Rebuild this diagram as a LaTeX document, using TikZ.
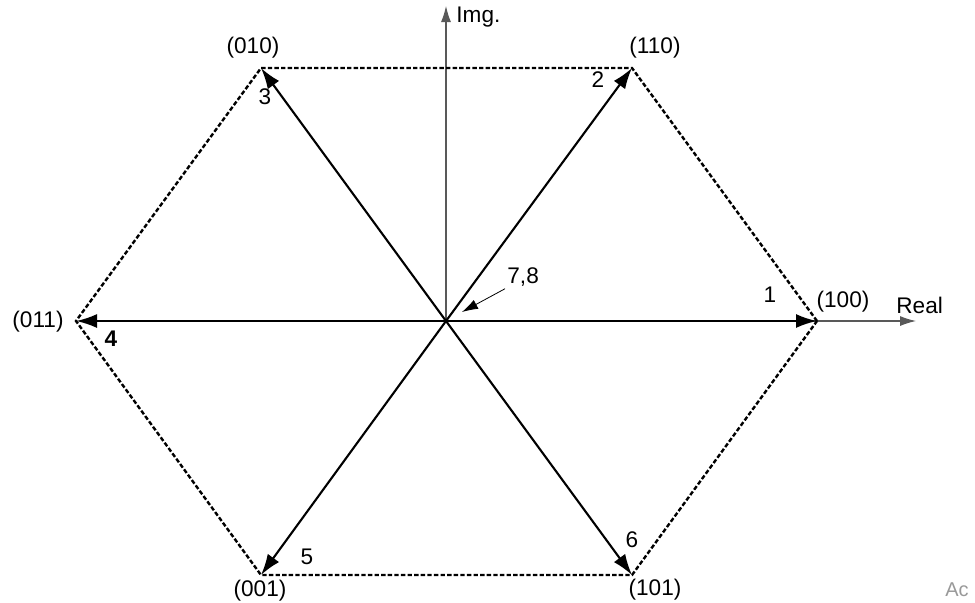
\documentclass[tikz,border=0pt]{standalone}
\usepackage{fontspec}
\setmainfont{Liberation Sans}
\usetikzlibrary{arrows, arrows.meta, positioning, calc}
\tikzstyle{axis} = [draw=black!65, line width=0.55pt, -{Latex[length=8pt,width=5pt]}]
\tikzstyle{vec} = [draw=black, line width=1.05pt, -{Latex[length=10.5pt,width=7pt]}]
\tikzstyle{hexedge} = [draw=black, line width=1.2pt, dash pattern=on 2.2pt off 1.1pt]
\tikzstyle{state} = [inner sep=1pt, font=\fontsize{11.3}{13}\selectfont]
\tikzstyle{num} = [inner sep=1pt, font=\fontsize{11.3}{13}\selectfont]

\begin{document}
\begin{tikzpicture}[x=0.5pt, y=-0.5pt]
    \useasboundingbox (0,0) rectangle (975,602);

    % --- Vertices ---
    \coordinate (o) at (446,321);
    \coordinate (v100) at (817,321);
    \coordinate (v110) at (632,68);
    \coordinate (v010) at (261,68);
    \coordinate (v011) at (76,321);
    \coordinate (v001) at (261,575);
    \coordinate (v101) at (632,575);
    \coordinate (imgtop) at (446,6);
    \coordinate (realend) at (916,321);

    % --- Axes ---
    \draw [axis] (o) -- (imgtop);
    \draw [axis] (o) -- (realend);
    \node (img) [state, anchor=west] at (454,17) {Img.};
    \node (real) [state, anchor=west] at (894,305) {Real};

    % --- Hexagon ---
    \draw [hexedge] (v100) -- (v110) -- (v010) -- (v011) -- (v001) -- (v101) -- cycle;

    % --- Vectors ---
    \foreach \v in {v100, v110, v010, v011, v001, v101}
        \draw [vec] (o) -- (\v);

    % --- State labels ---
    \node (l010) [state] at (253,48) {(010)};
    \node (l110) [state] at (655,48) {(110)};
    \node (l100) [state] at (843,302) {(100)};
    \node (l011) [state] at (38,322) {(011)};
    \node (l001) [state] at (260,591) {(001)};
    \node (l101) [state] at (655,590) {(101)};

    % --- Vector numbers ---
    \node (n1) [num] at (770,295) {1};
    \node (n2) [num] at (598,80) {2};
    \node (n3) [num] at (265,97) {3};
    \node (n4) [num, font=\fontsize{11.3}{13}\selectfont\bfseries] at (111,339) {4};
    \node (n5) [num] at (307,557) {5};
    \node (n6) [num] at (632,540) {6};

    % --- Zero vectors ---
    \node (n78) [num, anchor=west] at (505,277) {7,8};
    \coordinate (z) at (462,312);
    \draw [draw=black, line width=0.4pt, -{Latex[length=8pt,width=5pt]}] (n78.south west) -- (z);

    \node (wm) [font=\fontsize{10}{12}\selectfont, text=black!40] at (957,590) {Ac};
\end{tikzpicture}
\end{document}
